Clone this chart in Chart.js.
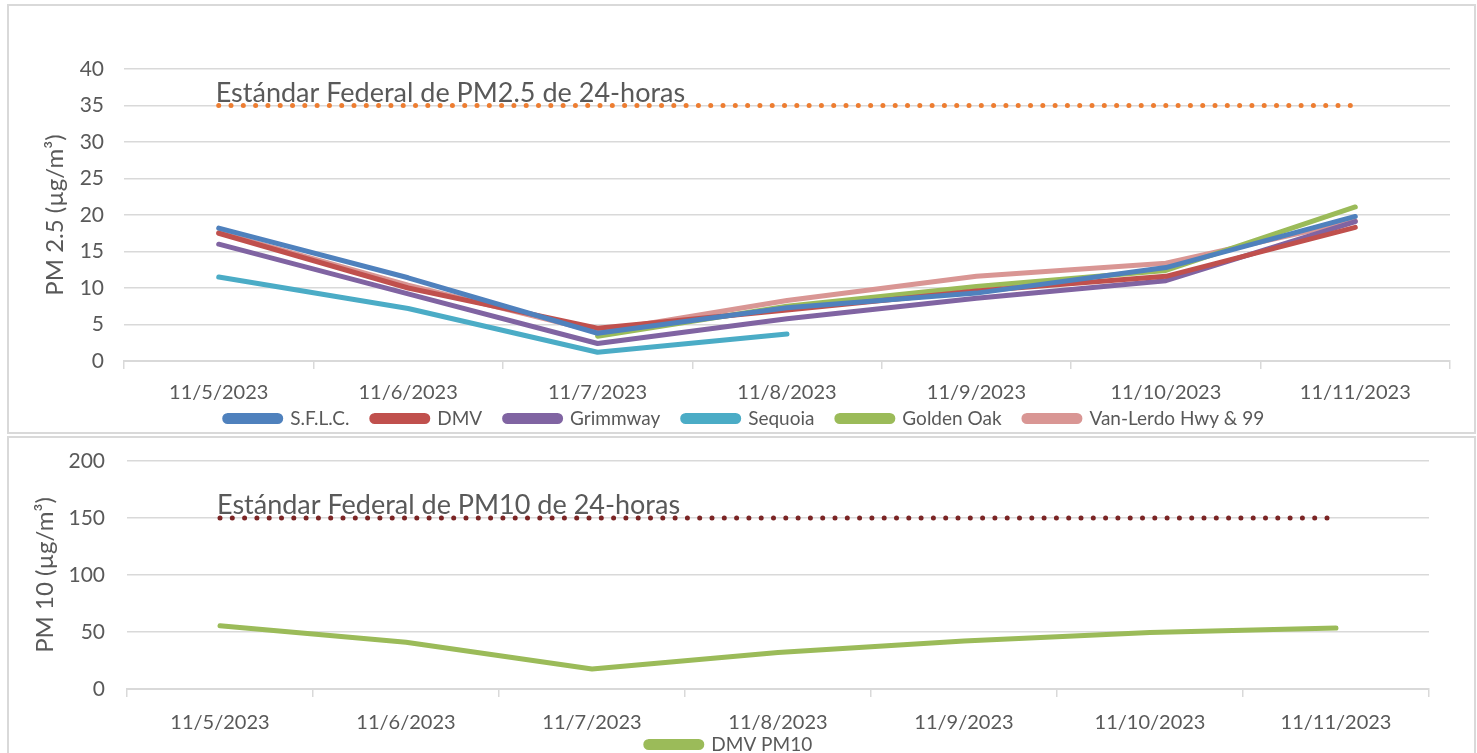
<!DOCTYPE html>
<html>
<head>
<meta charset="utf-8">
<script src="https://cdn.jsdelivr.net/npm/chart.js@4.4.0/dist/chart.umd.min.js"></script>
<style>
  body { margin: 0; background: #fff; width: 1477px; height: 753px; overflow: hidden; position: relative; }
  .panel { position: absolute; border: 2px solid #d9d9d9; box-sizing: border-box; background: #fff; }
  #p1 { left: 7px; top: 4px; width: 1469px; height: 430px; }
  #p2 { left: 7px; top: 436px; width: 1469px; height: 330px; }
  canvas { position: absolute; left: 0; top: 0; }
  #pm10 { top: -14px; }
</style>
</head>
<body>
<div class="panel" id="p1"><canvas id="pm25" width="1465" height="440"></canvas></div>
<div class="panel" id="p2"><canvas id="pm10" width="1465" height="344"></canvas></div>
<script>
// Data
const dates = ['11/5/2023', '11/6/2023', '11/7/2023', '11/8/2023', '11/9/2023', '11/10/2023', '11/11/2023'];

const sflc      = [18.2, 11.4, 3.8, 7.3, 9.3, 12.8, 19.8];
const dmv       = [17.5, 10.0, 4.5, 7.0, 9.6, 11.6, 18.3];
const grimmway  = [16.0, 9.2, 2.4, 5.8, 8.6, 11.0, 19.1];
const sequoia   = [11.5, 7.2, 1.2, 3.7, null, null, null];
const goldenOak = [null, null, 3.4, 7.5, 10.2, 12.4, 21.1];
const vanLerdo  = [17.6, 10.4, 4.0, 8.3, 11.6, 13.4, 19.2];
const std25     = [35, 35, 35, 35, 35, 35, 35];

const dmvPm10   = [55.5, 41, 17.5, 32, 42, 49.5, 53.5];
const std10     = [150, 150, 150, 150, 150, 150, 150];

const pm25Ticks = { min: 0, max: 40, step: 5 };
const pm10Ticks = { min: 0, max: 200, step: 50 };

const FONT = 'Lato, "Open Sans", sans-serif';
const TXT = '#595959';
const GRID = '#d9d9d9';

// draws the "Estándar Federal ..." caption just above the standard line
const stdLabel = {
    id: 'stdLabel',
    afterDatasetsDraw(chart, args, opts) {
        if (!opts.text) return;
        const { ctx, scales } = chart;
        ctx.save();
        ctx.font = '27px ' + FONT;
        ctx.fillStyle = TXT;
        ctx.textBaseline = 'alphabetic';
        ctx.fillText(opts.text, scales.x.getPixelForValue(0) - 3, scales.y.getPixelForValue(opts.value) - 4);
        ctx.restore();
    }
};

function series(label, data, color) {
    return {
        label, data,
        borderColor: color,
        backgroundColor: color,
        borderWidth: 5,
        pointRadius: 0,
        borderCapStyle: 'round',
        borderJoinStyle: 'round',
        tension: 0,
        spanGaps: false
    };
}

function stdSeries(data, color) {
    return {
        label: 'std',
        data,
        borderColor: color,
        backgroundColor: color,
        borderWidth: 5,
        borderDash: [0, 12.3],
        borderCapStyle: 'round',
        pointRadius: 0
    };
}

// default legend items, with a little extra room after each one (except the last)
function legendItems(chart) {
    const items = Chart.defaults.plugins.legend.labels.generateLabels(chart);
    return items.map((it, i) => {
        if (i < items.length - 1) it.text = it.text + '\u2002 ';
        return it;
    });
}

function options(t, cfg) {
    return {
        responsive: false,
        animation: false,
        layout: { padding: cfg.padding },
        plugins: {
            stdLabel: { text: cfg.label, value: cfg.stdValue },
            tooltip: { enabled: false },
            legend: {
                position: 'bottom',
                labels: {
                    color: TXT,
                    font: { family: FONT, size: 19 },
                    boxWidth: 56,
                    boxHeight: 6,
                    useBorderRadius: true,
                    borderRadius: 3,
                    padding: cfg.legendPad,
                    generateLabels: legendItems,
                    filter: item => item.text !== 'std\u2002 ' && item.text !== 'std'
                }
            }
        },
        scales: {
            x: {
                offset: true,
                grid: { offset: true, drawOnChartArea: false, drawTicks: true, tickLength: 8, color: GRID, lineWidth: 1.5 },
                border: { color: GRID, width: 2 },
                ticks: { color: TXT, font: { family: FONT, size: 20 }, padding: cfg.xPad, maxRotation: 0, autoSkip: false },
                afterFit: s => { s.height = cfg.xHeight; }
            },
            y: {
                min: t.min, max: t.max,
                ticks: { stepSize: t.step, color: TXT, font: { family: FONT, size: 21 }, padding: cfg.tickPad },
                grid: { color: GRID, lineWidth: 1.5, drawTicks: false },
                border: { display: false },
                title: { display: true, text: cfg.title, color: TXT, font: { family: FONT, size: 24 }, padding: { top: 2, bottom: 0 } },
                afterFit: s => { s.width = cfg.yWidth; }
            }
        }
    };
}

new Chart(document.getElementById('pm25'), {
    type: 'line',
    data: {
        labels: dates,
        datasets: [
            stdSeries(std25, '#ED7D31'),
            series('S.F.L.C.', sflc, '#4F81BD'),
            series('DMV', dmv, '#C0504D'),
            series('Grimmway', grimmway, '#8064A2'),
            series('Sequoia', sequoia, '#4BACC6'),
            series('Golden Oak', goldenOak, '#9BBB59'),
            series('Van-Lerdo Hwy & 99', vanLerdo, '#D99694')
        ]
    },
    options: options(pm25Ticks, {
        padding: { left: 30, right: 24, top: 63, bottom: 8 },
        yWidth: 85, tickPad: 20, xHeight: 40, xPad: 12, legendPad: 8,
        title: 'PM 2.5 (µg/m³)',
        label: 'Estándar Federal de PM2.5 de 24-horas', stdValue: 35
    }),
    plugins: [stdLabel]
});

new Chart(document.getElementById('pm10'), {
    type: 'line',
    data: {
        labels: dates,
        datasets: [
            stdSeries(std10, '#7B2525'),
            series('DMV PM10', dmvPm10, '#9BBB59')
        ]
    },
    options: options(pm10Ticks, {
        padding: { left: 20, right: 45, top: 37, bottom: 4 },
        yWidth: 98, tickPad: 22, xHeight: 43, xPad: 14, legendPad: 3,
        title: 'PM 10 (µg/m³)',
        label: 'Estándar Federal de PM10 de 24-horas', stdValue: 150
    }),
    plugins: [stdLabel]
});
</script>
</body>
</html>
